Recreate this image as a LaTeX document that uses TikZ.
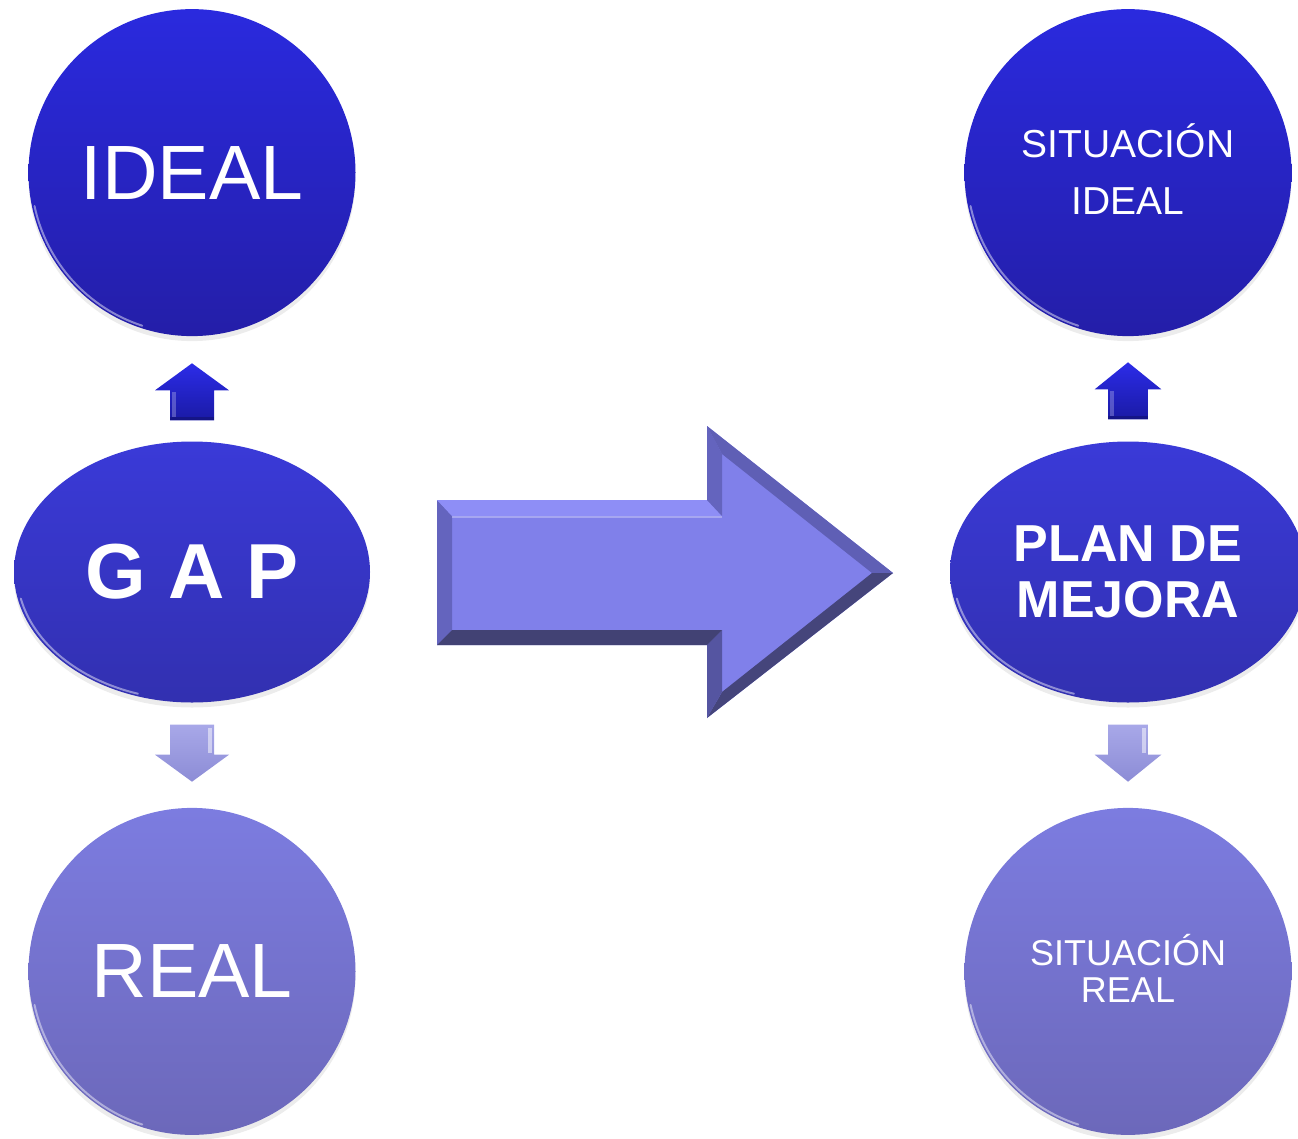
\documentclass[tikz,border=0pt]{standalone}
\usepackage{fontspec}
\setmainfont{Liberation Sans}
\usetikzlibrary{shapes.geometric, positioning, shadows}

\definecolor{deeptop}{RGB}{42,42,222}
\definecolor{deepbot}{RGB}{36,30,168}
\definecolor{midtop}{RGB}{58,58,216}
\definecolor{midbot}{RGB}{50,48,176}
\definecolor{paletop}{RGB}{124,124,224}
\definecolor{palebot}{RGB}{108,104,186}
\definecolor{bigfill}{RGB}{128,128,234}
\definecolor{bigside}{RGB}{100,100,190}
\definecolor{bigtop}{RGB}{142,142,246}
\definecolor{bigdark}{RGB}{66,66,116}

\begin{document}
\begin{tikzpicture}
  [x=1pt,y=1pt,
   bubble/.style={circle,minimum size=327pt,inner sep=0pt,text=white,
     drop shadow={shadow xshift=0pt,shadow yshift=-5pt,opacity=0.15}},
   oval/.style={ellipse,minimum width=356pt,minimum height=261pt,inner sep=0pt,text=white,
     drop shadow={shadow xshift=0pt,shadow yshift=-5pt,opacity=0.15}},
   deep/.style={top color=deeptop,bottom color=deepbot},
   mid/.style={top color=midtop,bottom color=midbot},
   pale/.style={top color=paletop,bottom color=palebot},
   rim/.style={white,opacity=0.45,line width=2pt,line cap=round},
   blockup/.pic={
     \shade[top color={rgb,255:red,44;green,44;blue,232},bottom color={rgb,255:red,26;green,26;blue,165}]
       (-22,0) -- (-22,30) -- (-37,30) -- (0,57) -- (37,30) -- (22,30) -- (22,0) -- cycle;
     \fill[white,opacity=0.25] (-20,3) rectangle (-16,28);
     \fill[black,opacity=0.2] (-22,0) rectangle (22,3);},
   blockdown/.pic={
     \shade[top color={rgb,255:red,168;green,168;blue,232},bottom color={rgb,255:red,140;green,140;blue,214}]
       (-22,0) -- (-22,-30) -- (-37,-30) -- (0,-57) -- (37,-30) -- (22,-30) -- (22,0) -- cycle;
     \fill[white,opacity=0.5] (16,-3) rectangle (20,-28);}]

  \useasboundingbox (0,0) rectangle (1298,-1138);

  % left column
  \node[oval,mid] (gap) at (192,-572) {\fontsize{78}{80}\selectfont\bfseries G A P};
  \node[bubble,deep] (ideal) [above=105pt of gap] {\fontsize{77}{80}\selectfont IDEAL};
  \node[bubble,pale] (real)  [below=105pt of gap] {\fontsize{77}{80}\selectfont REAL};

  % right column
  \node[oval,mid,align=center,font=\fontsize{52}{56}\selectfont\bfseries] (plan) at (1128,-572)
                            {PLAN DE\\MEJORA};
  \node[bubble,deep,align=center,font=\fontsize{39}{57}\selectfont] (sitideal) [above=105pt of plan]
                            {SITUACI\smash{Ó}N\\IDEAL};
  \node[bubble,pale,align=center,font=\fontsize{36}{37}\selectfont] (sitreal) [below=105pt of plan]
                            {SITUACI\smash{Ó}N\\REAL};

  \foreach \n in {ideal,real,sitideal,sitreal}
    \draw[rim] (\n.center) ++(192:161) arc[start angle=192,end angle=252,radius=161];
  \foreach \n in {gap,plan}
    \draw[rim] (\n.center) ++(192:175 and 128) arc[start angle=192,end angle=252,x radius=175,y radius=128];

  % small arrows
  \pic at ([yshift=21pt]gap.north) {blockup};
  \pic at ([yshift=-22pt]gap.south) {blockdown};
  \pic[xscale=0.9] at ([yshift=22pt]plan.north) {blockup};
  \pic[xscale=0.9] at ([yshift=-22pt]plan.south) {blockdown};

  % big arrow
  \fill[bigfill] (437,-500) -- (707,-500) -- (707,-426) -- (893,-573) -- (707,-718) -- (707,-645) -- (437,-645) -- cycle;
  \fill[bigside] (437,-500) -- (452,-516) -- (452,-630) -- (437,-645) -- cycle;
  \fill[bigtop]  (437,-500) -- (707,-500) -- (722,-516) -- (452,-516) -- cycle;
  \fill[bigside] (707,-500) -- (707,-426) -- (722,-454) -- (722,-516) -- cycle;
  \fill[bigside!95!black] (707,-426) -- (893,-573) -- (872,-573) -- (722,-454) -- cycle;
  \fill[bigdark!90!bigside] (893,-573) -- (707,-718) -- (722,-692) -- (872,-573) -- cycle;
  \fill[bigside!85!black] (707,-718) -- (707,-645) -- (722,-630) -- (722,-692) -- cycle;
  \fill[bigdark] (707,-645) -- (437,-645) -- (452,-630) -- (722,-630) -- cycle;
  \draw[white,opacity=0.3,line width=2pt] (452,-517) -- (722,-517);

\end{tikzpicture}
\end{document}
